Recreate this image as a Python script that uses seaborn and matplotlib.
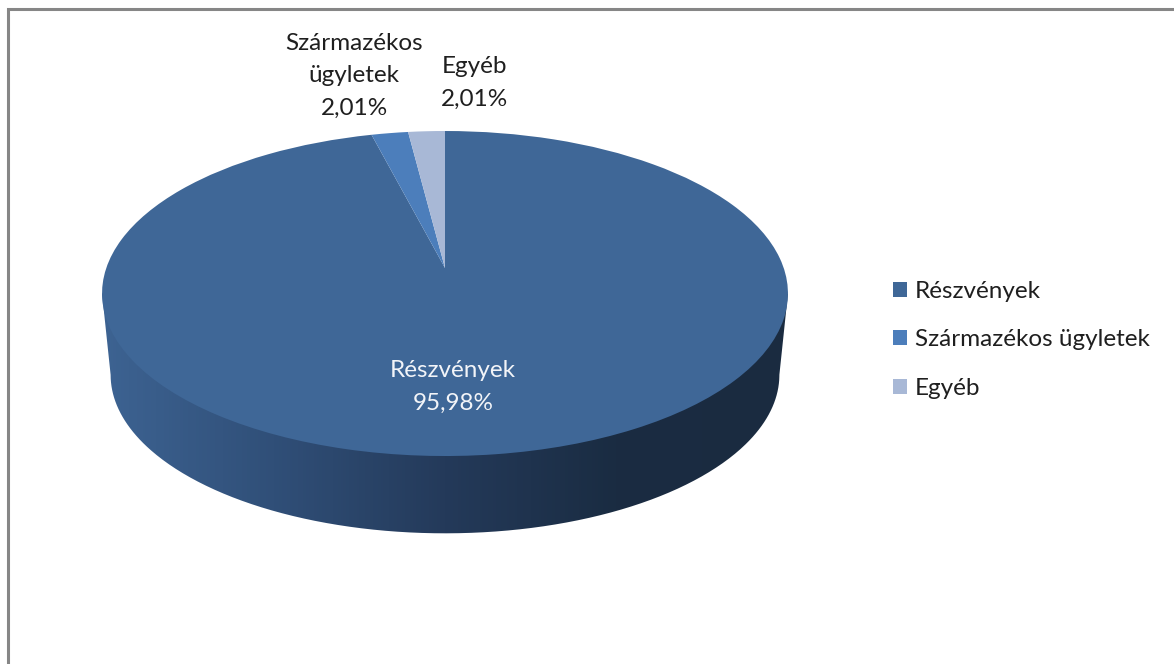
"""
Részvények / Származékos ügyletek / Egyéb - perspektivikus kördiagram
"""
import numpy as np
import matplotlib
matplotlib.use("Agg")
import matplotlib.pyplot as plt
import seaborn as sns
from matplotlib.patches import PathPatch
from matplotlib.path import Path
from matplotlib.transforms import Transform

categories = ["Részvények", "Származékos ügyletek", "Egyéb"]
values = [95.98, 2.01, 2.01]
value_labels = ["95,98%", "2,01%", "2,01%"]
slice_colors = ["#3F6797", "#4C7EBB", "#A8B8D6"]
wall_colors = ["#3D6392", "#304F78", "#243A5A", "#1A2C42", "#1A2B40"]

FONT = ["Lato", "DejaVu Sans"]
TEXT_SIZE = 17.5
TEXT_COLOR = "#1F1F1F"


# 单位圆 -> 像素坐标的透视变换
class Perspective(Transform):
    input_dims = 2
    output_dims = 2
    has_inverse = False

    def __init__(self, cx, cy, scale=1.0):
        super().__init__()
        self.cx, self.cy, self.scale = cx, cy, scale

    def transform_non_affine(self, values):
        values = np.asarray(values)
        w = 1 + 0.157 * values[:, 1]
        x = self.cx + self.scale * 338.7 * values[:, 0] / w
        y = self.cy - self.scale * 158.5 * values[:, 1] / w
        return np.column_stack([x, y])


sns.set_theme(style="white")
plt.rcParams["font.family"] = FONT

fig = plt.figure(figsize=(11.74, 6.64), dpi=100)
ax = fig.add_axes([0, 0, 1, 1])

wedges, _ = ax.pie(values, colors=slice_colors, startangle=90, counterclock=False,
                   wedgeprops={"linewidth": 0, "antialiased": True})
top = Perspective(445, 268)
for wedge in wedges:
    wedge.set_transform(top + ax.transData)
    wedge.set_zorder(3)

ax.set_aspect("auto")
ax.set_xlim(0, 1174)
ax.set_ylim(664, 0)
ax.axis("off")

# 侧面：从上椭圆最宽处到下椭圆最宽处，下半圈包住
theta = np.linspace(np.pi, 2 * np.pi, 400)
circle = np.column_stack([np.cos(theta), np.sin(theta)])
lower = Perspective(445, 350, 0.975).transform_non_affine(circle)
upper = top.transform_non_affine(circle)
lower = lower[lower[:, 0].argmin():lower[:, 0].argmax() + 1]
outline = np.vstack([upper[upper[:, 0].argmin()], lower, upper[upper[:, 0].argmax()]])
wall_cmap = sns.blend_palette(wall_colors, as_cmap=True)
wall = ax.imshow(np.linspace(0, 1, 686).reshape(1, -1), cmap=wall_cmap, aspect="auto",
                 extent=(102, 788, 540, 280), zorder=2)
ax.set_xlim(0, 1174)
ax.set_ylim(664, 0)
clip = PathPatch(Path(outline), transform=ax.transData, facecolor="none", edgecolor="none")
ax.add_patch(clip)
wall.set_clip_path(clip)

# 外框（只有上边和左边）
ax.plot([8, 8, 1174], [664, 9, 9], color="#868686", lw=2.2, solid_joinstyle="miter", clip_on=False)

ax.text(453, 387, f"{categories[0]}\n{value_labels[0]}", color="#F2F4F8", ha="center", va="center",
        fontsize=TEXT_SIZE, linespacing=1.65, zorder=4)
ax.text(354, 76, f"Származékos\nügyletek\n{value_labels[1]}", color=TEXT_COLOR, ha="center", va="center",
        fontsize=TEXT_SIZE, linespacing=1.65, zorder=4)
ax.text(474, 83, f"{categories[2]}\n{value_labels[2]}", color=TEXT_COLOR, ha="center", va="center",
        fontsize=TEXT_SIZE, linespacing=1.65, zorder=4)

legend = ax.legend(wedges, categories, loc="center left", bbox_to_anchor=(883 / 1174, 1 - 340 / 664),
                   frameon=False, fontsize=TEXT_SIZE, handlelength=0.57, handleheight=0.57,
                   handletextpad=0.33, labelspacing=1.12, borderpad=0, borderaxespad=0.4,
                   labelcolor=TEXT_COLOR)

fig.savefig("out.png", dpi=100, facecolor="white")
